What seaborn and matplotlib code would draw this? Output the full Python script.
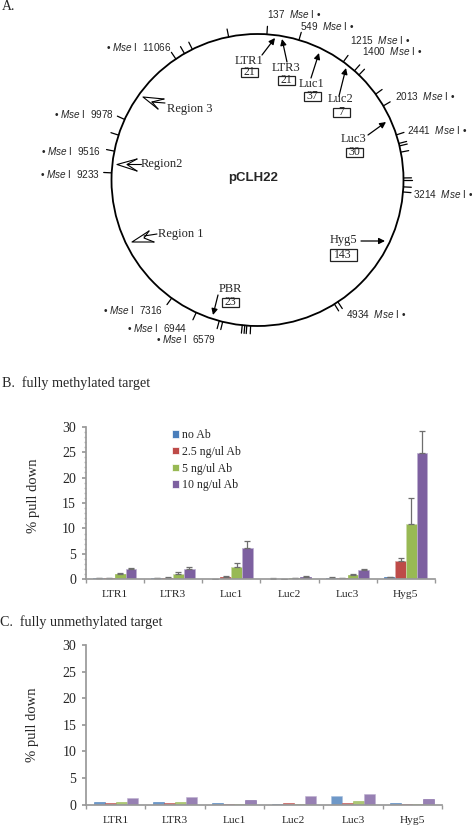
import numpy as np
import pandas as pd
import matplotlib
matplotlib.use("Agg")
import matplotlib.pyplot as plt
import seaborn as sns
from matplotlib.patches import Circle, Rectangle
from matplotlib.ticker import MultipleLocator

WIDTH, HEIGHT = 472, 826
CENTER = (257.5, 180)
RADIUS = 146

targets = ["LTR1", "LTR3", "Luc1", "Luc2", "Luc3", "Hyg5"]
doses = ["no Ab", "2.5 ng/ul Ab", "5 ng/ul Ab", "10 ng/ul Ab"]
colors = ["#4A7EBB", "#BE4B48", "#98B954", "#7D60A0"]
edges = ["#A9C0DE", "#DDA9A8", "#CBDCAA", "#BDAFD0"]

meth_none = [0.2, 0.25, 0.1, 0.15, 0.35, 0.5]
meth_25 = [0.3, 0.35, 0.5, 0.1, 0.3, 3.5]
meth_5 = [1.0, 1.05, 2.5, 0.3, 0.8, 10.8]
meth_10 = [1.95, 2.1, 6.2, 0.4, 1.85, 24.8]

meth_err_none = [0.02, 0.02, 0.02, 0.02, 0.03, 0.05]
meth_err_25 = [0.05, 0.05, 0.07, 0.05, 0.05, 0.6]
meth_err_5 = [0.2, 0.3, 0.8, 0.05, 0.25, 5.2]
meth_err_10 = [0.35, 0.4, 1.4, 0.2, 0.1, 4.4]

unmeth_none = [0.45, 0.5, 0.3, 0.05, 1.6, 0.3]
unmeth_25 = [0.3, 0.35, 0.05, 0.3, 0.4, 0.05]
unmeth_5 = [0.45, 0.5, 0.1, 0.15, 0.65, 0.15]
unmeth_10 = [1.25, 1.4, 0.8, 1.6, 1.95, 1.0]

# clockwise degrees from the top of the plasmid
site_angles = [3.7, 16.5, 36, 41.6, 44, 54, 59.5, 72, 75.5, 76.5, 79, 89.2, 90,
               92.7, 94.7, 146.6, 148.2, 182.7, 184.2, 185, 186, 193.8, 195.2,
               204.8, 216, 272.8, 281.4, 287.9, 294.5, 326, 330, 333.5, 348.6]
site_labels = [
    ("137", 267, 14, "num"), ("549", 300, 25.5, "num"), ("1215", 350, 40, "num"),
    ("1400", 362, 51, "num"), ("2013", 395, 96, "num"), ("2441", 407, 130, "num"),
    ("3214", 413, 194, "num"), ("4934", 346, 314, "num"),
    ("11066", 172, 47, "rev"), ("9978", 114, 114, "rev"), ("9516", 101, 151, "rev"),
    ("9233", 100, 173.5, "rev"), ("7316", 163, 310, "rev"), ("6944", 187, 328, "rev"),
    ("6579", 216, 339, "rev"),
]
probes = [
    ("LTR1", "21", 249, 60.5, 72, (262, 55), (275, 38)),
    ("LTR3", "21", 286, 68, 80, (287, 62), (282, 39)),
    ("Luc1", "37", 312, 84, 96, (311, 78), (319, 53)),
    ("Luc2", "7", 341, 98.5, 112, (339, 96), (346, 68)),
    ("Luc3", "30", 354, 139, 152, (368, 135), (386, 122)),
    ("PBR", "23", 230, 289, 302, (218, 295), (213, 315)),
    ("Hyg5", "143", 343, 240, 255, (361, 241), (385, 241)),
]
regions = [
    ("Region 3", 167, 109),
    ("Region2", 141, 164),
    ("Region 1", 158, 234),
]
region_strokes = [
    [[(164, 99), (143, 97), (158, 109)], [(164, 99), (152, 102), (158, 109)], [(152, 102), (165, 103)]],
    [[(137, 159), (117, 164.5), (137, 171)], [(137, 159), (127, 164.5), (137, 171)], [(127, 164), (141, 164)]],
    [[(149, 231), (132, 242), (154, 242)], [(149, 231), (144, 238), (154, 242)], [(144, 236), (157, 234)]],
]


def draw_plasmid(ax):
    ax.add_patch(Circle(CENTER, RADIUS, fill=False, ec="black", lw=1.3))
    for angle in site_angles:
        theta = np.radians(angle)
        xs = [CENTER[0] + r * np.sin(theta) for r in (RADIUS, RADIUS + 8)]
        ys = [CENTER[1] - r * np.cos(theta) for r in (RADIUS, RADIUS + 8)]
        ax.plot(xs, ys, color="black", lw=0.9)

    for number, x, y, side in site_labels:
        if side == "num":
            ax.text(x, y, rf"{number}  $\mathit{{Mse}}$ I •", fontsize=7.2,
                    family="Liberation Sans", va="center", ha="left")
        else:
            ax.text(x, y, rf"• $\mathit{{Mse}}$ I  {number}", fontsize=7.2,
                    family="Liberation Sans", va="center", ha="right")

    for name, count, x, label_y, box_y, start, end in probes:
        ax.text(x, label_y, name, fontsize=9, family="Liberation Serif", ha="center", va="center")
        box_w = 27 if count == "143" else 17
        box_h = 11.5 if count == "143" else 9
        ax.add_patch(Rectangle((x - box_w / 2, box_y - box_h / 2), box_w, box_h, fill=False, ec="#222222", lw=0.9))
        ax.text(x, box_y, count, fontsize=8.5, family="Liberation Serif", ha="center", va="center")
        ax.annotate("", xy=end, xytext=start,
                    arrowprops=dict(arrowstyle="-|>", color="black", lw=0.9, mutation_scale=9, shrinkA=0, shrinkB=0))

    for (name, x, y), strokes in zip(regions, region_strokes):
        ax.text(x, y, name, fontsize=9, family="Liberation Serif", va="center", ha="left")
        for stroke in strokes:
            ax.plot(*zip(*stroke), color="black", lw=0.8)

    ax.text(253, 178, "pCLH22", fontsize=9.5, weight="bold", family="Liberation Sans", ha="center", va="center")


def draw_bars(ax, values, errors=None):
    frame = pd.DataFrame({
        "target": targets * len(doses),
        "dose": [dose for dose in doses for _ in targets],
        "value": [v for series in values for v in series],
    })
    sns.barplot(data=frame, x="target", y="value", hue="dose", palette=colors, hue_order=doses,
                order=targets, width=0.74, gap=0, saturation=1, errorbar=None, ax=ax,
                linewidth=0.5, legend=errors is not None)
    for container, edge, color in zip(ax.containers, edges, colors):
        for bar in container:
            # the pale outline washes out the very short bars
            bar.set_edgecolor(edge if bar.get_height() > 1 else color)
    if errors is not None:
        for container, err in zip(ax.containers, errors):
            xs = [bar.get_x() + bar.get_width() / 2 for bar in container]
            ys = [bar.get_height() for bar in container]
            ax.errorbar(xs, ys, yerr=[np.zeros(len(err)), err], fmt="none", ecolor="#6E6E6E",
                        elinewidth=0.9, capsize=2.4, capthick=0.9)

    ax.set_ylim(0, 30)
    ax.set_xlim(-0.5, 5.5)
    ax.set_xlabel("")
    ax.set_ylabel("% pull down", fontsize=10.5, family="Liberation Serif")
    ax.yaxis.set_major_locator(MultipleLocator(5))
    ax.tick_params(axis="y", labelsize=10, length=3, color="#999999", pad=4, left=True)
    ax.tick_params(axis="x", labelsize=8.2, length=0, pad=8)
    for label in ax.get_xticklabels() + ax.get_yticklabels():
        label.set_family("Liberation Serif")
    ax.set_xticks(np.arange(-0.5, 6), minor=True)
    ax.tick_params(axis="x", which="minor", length=3, color="#999999", bottom=True)
    for side in ("top", "right"):
        ax.spines[side].set_visible(False)
    for side in ("left", "bottom"):
        ax.spines[side].set_color("#999999")


def axes_from_pixels(fig, left, top, right, bottom):
    return fig.add_axes([left / WIDTH, 1 - bottom / HEIGHT, (right - left) / WIDTH, (bottom - top) / HEIGHT])


def main():
    sns.set_theme(style="white")
    plt.rcParams["mathtext.fontset"] = "custom"
    plt.rcParams["mathtext.it"] = "Liberation Sans:italic"
    plt.rcParams["mathtext.rm"] = "Liberation Sans"
    fig = plt.figure(figsize=(WIDTH / 100, HEIGHT / 100), dpi=100)

    overlay = fig.add_axes([0, 0, 1, 1])
    overlay.set_xlim(0, WIDTH)
    overlay.set_ylim(HEIGHT, 0)
    overlay.axis("off")
    draw_plasmid(overlay)
    overlay.text(2, 6, "A.", fontsize=10, family="Liberation Serif", va="center")
    overlay.text(2, 383.5, "B.  fully methylated target", fontsize=10.2, family="Liberation Serif", va="center")
    overlay.text(0, 622, "C.  fully unmethylated target", fontsize=10.2, family="Liberation Serif", va="center")

    ax_b = axes_from_pixels(fig, 85.7, 426.7, 435, 579.3)
    draw_bars(ax_b, [meth_none, meth_25, meth_5, meth_10],
              [meth_err_none, meth_err_25, meth_err_5, meth_err_10])
    ax_b.yaxis.set_label_coords((40 - 85.7) / 349.3, 0.545)
    ax_b.yaxis.set_minor_locator(MultipleLocator(1))
    ax_b.tick_params(axis="y", which="minor", length=1.5, color="#BBBBBB", left=True)
    ax_b.legend(loc="upper left", bbox_to_anchor=(0.215, 1.055), frameon=False, title=None,
                handlelength=0.6, handleheight=0.6, handletextpad=0.25, labelspacing=0.4,
                prop={"family": "Liberation Serif", "size": 8.6})

    ax_c = axes_from_pixels(fig, 86, 645, 442, 804.7)
    draw_bars(ax_c, [unmeth_none, unmeth_25, unmeth_5, unmeth_10])
    ax_c.yaxis.set_label_coords((39 - 86) / 356, 0.5)
    for container in ax_c.containers:
        for bar in container:
            bar.set_alpha(0.8)

    fig.savefig("out.png", dpi=100)


if __name__ == "__main__":
    main()
